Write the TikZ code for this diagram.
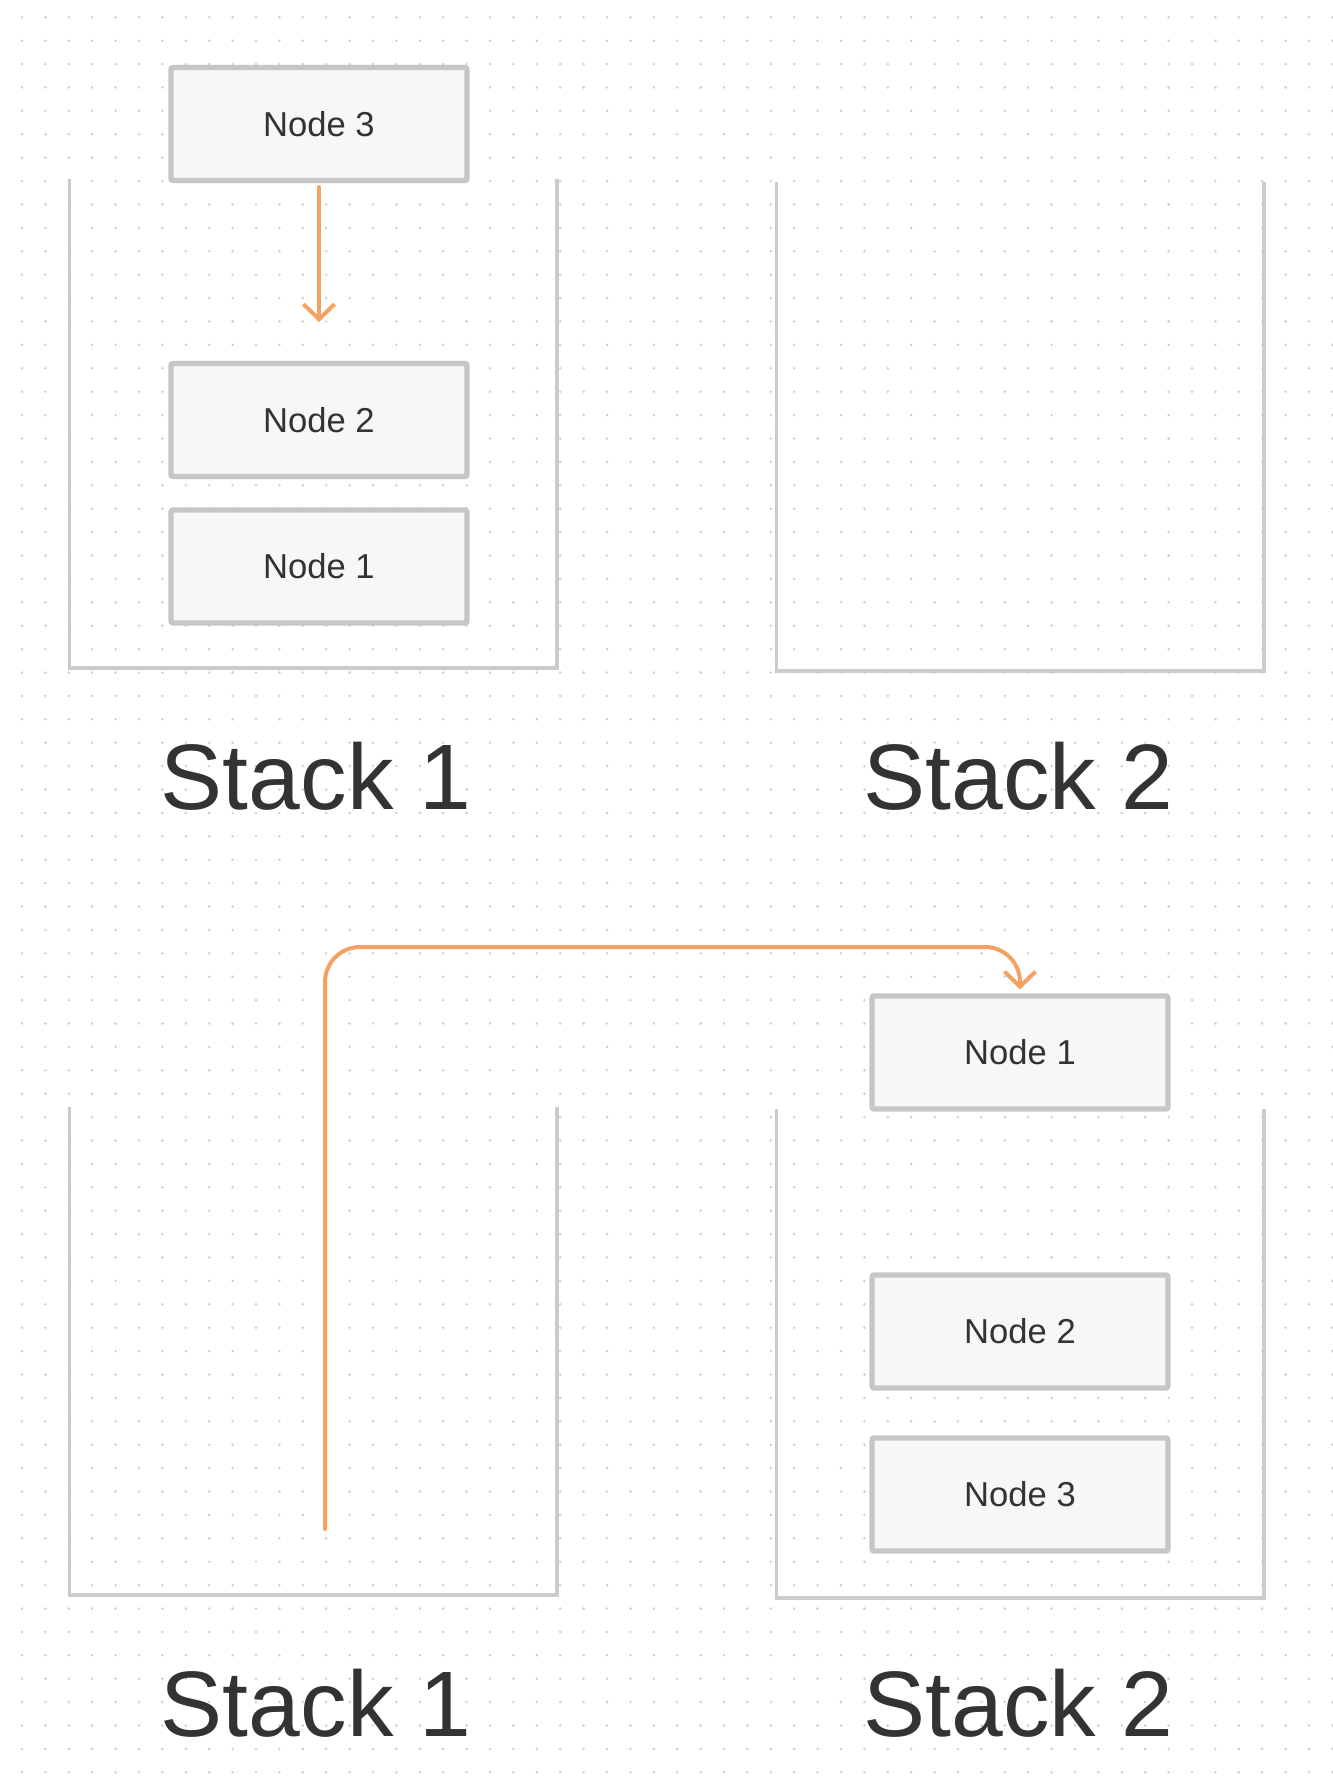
\documentclass[tikz,border=0pt]{standalone}
\usepackage{fontspec}
\setmainfont{Liberation Sans}
\usetikzlibrary{arrows.meta}
\definecolor{wallgray}{HTML}{CBCBCB}
\definecolor{boxgray}{HTML}{C6C6C6}
\definecolor{boxfill}{HTML}{F7F7F7}
\definecolor{inkgray}{HTML}{333333}
\definecolor{dotgray}{HTML}{CFCFCF}
\definecolor{moveorange}{HTML}{F4A263}
\begin{document}
\begin{tikzpicture}[x=0.5pt, y=-0.5pt,
            stackwall/.style={draw=wallgray, line width=1.9pt},
            stacknode/.style={rectangle, draw=boxgray, fill=boxfill, line width=2.6pt, rounded corners=1pt, minimum width=148pt, minimum height=56.5pt, text=inkgray, font=\fontsize{17.3}{20}\selectfont},
            stacklabel/.style={anchor=base, text=inkgray, inner sep=0pt, font=\fontsize{46.5}{50}\selectfont},
            move/.style={draw=moveorange, line width=2pt, line cap=round, -{Straight Barb[length=7.5pt, width=15.5pt, line width=2pt]}}
        ]
            \useasboundingbox (0,0) rectangle (1332,1786);
            \fill[white] (0,0) rectangle (1332,1786);
            \foreach \i in {0,...,56}
                \foreach \j in {0,...,75}
                    \fill[dotgray] ({22+23.4*\i},{17.3+23.4*\j}) circle (0.7pt);

            \draw[stackwall] (69.5,179) |- (556.7,668.3) -- (556.7,179);
            \draw[stackwall] (776.5,182) |- (1263.7,670.6) -- (1263.7,182);
            \node(topthree) at (319,124) [stacknode] {Node 3};
            \node(toptwo) at (319,420) [stacknode] {Node 2};
            \node(topone) at (319,566.5) [stacknode] {Node 1};
            \coordinate (topend) at (319,322);
            \draw[move, shorten <=2pt] (topthree) -- (topend);
            \node(topstackone) at (316,809) [stacklabel] {Stack 1};
            \node(topstacktwo) at (1018.5,809) [stacklabel] {Stack 2};

            \draw[stackwall] (69.5,1106.7) |- (556.7,1595) -- (556.7,1106.7);
            \draw[stackwall] (776.5,1109) |- (1263.7,1598) -- (1263.7,1109);
            \node(botone) at (1020,1052.5) [stacknode] {Node 1};
            \node(bottwo) at (1020,1331.5) [stacknode] {Node 2};
            \node(botthree) at (1020,1494.5) [stacknode] {Node 3};
            \coordinate (botstart) at (325,1529);
            \draw[move, rounded corners=17.5pt, shorten >=2pt] (botstart) -- (325,947) -- (1020,947) -- (botone.north);
            \node(botstackone) at (316,1736) [stacklabel] {Stack 1};
            \node(botstacktwo) at (1018.5,1736) [stacklabel] {Stack 2};
        \end{tikzpicture}
\end{document}
